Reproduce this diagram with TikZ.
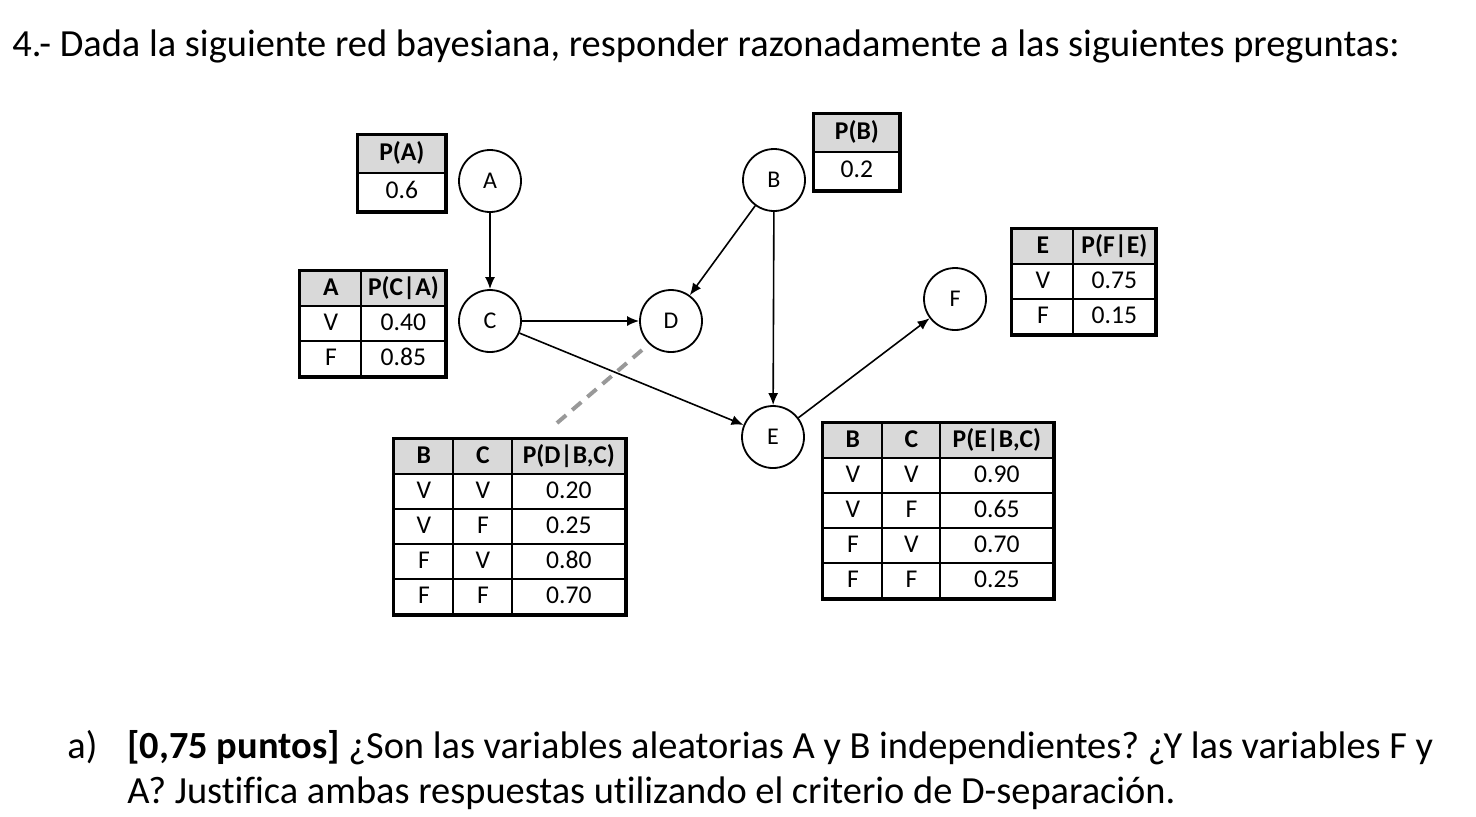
\documentclass[tikz,border=0pt]{standalone}
\usepackage{fontspec}
\setmainfont{Carlito}[Ligatures=NoCommon]
\usetikzlibrary{matrix,arrows.meta}
\frenchspacing

\tikzset{
  var/.style={circle,draw,line width=0.9pt,minimum size=31pt,inner sep=0pt,
    font=\fontsize{12}{14}\selectfont},
  edge/.style={-{Latex[length=6pt,width=5pt]},line width=0.8pt},
  cpt/.style={matrix of nodes,inner sep=0pt,row sep=-1pt,column sep=-1pt,
    anchor=north west,
    nodes={draw,line width=1pt,inner sep=0pt,anchor=center,minimum height=17.5pt,
      text height=9pt,text depth=2.5pt,font=\fontsize{12.8}{14}\selectfont},
    row 1/.style={nodes={fill=gray!30,font=\fontsize{12.8}{14}\selectfont\bfseries}}},
  frame/.style={line width=1.3pt},
  txt/.style={anchor=base west,inner sep=0pt,font=\fontsize{19.2}{23}\selectfont}
}

\begin{document}
\begin{tikzpicture}[x=0.5pt,y=-0.5pt]
  \useasboundingbox (0,0) rectangle (1476,816);

  % title and question
  \node[txt] (title) at (12,56) {4.- Dada la siguiente red bayesiana, responder razonadamente a las siguientes preguntas:};
  \node[txt] (qa) at (67,758) {a)};
  \node[txt] (q1) at (127,758) {\textbf{[0,75 puntos]} ¿Son las variables aleatorias A y B independientes? ¿Y las variables F y};
  \node[txt] (q2) at (127,803) {A? Justifica ambas respuestas utilizando el criterio de D-separación.};

  % variables
  \node[var] (A) at (490,181) {A};
  \node[var] (B) at (774,180) {B};
  \node[var] (C) at (490,321) {C};
  \node[var] (D) at (671,321) {D};
  \node[var] (E) at (773,437) {E};
  \node[var] (F) at (955,299) {F};

  \draw[edge] (A) -- (C);
  \draw[edge] (C) -- (D);
  \draw[edge] (B) -- (D);
  \draw[edge] (B) -- (E);
  \draw[edge] (C) -- (E);
  \draw[edge] (E) -- (F);

  % d-separation cut
  \coordinate (cut1) at (557,423);
  \coordinate (cut2) at (642,350);
  \draw[gray!80,line width=2pt,dash pattern=on 6pt off 4pt] (cut1) -- (cut2);

  % tables
  \matrix (tA) at (357,134) [cpt,nodes={minimum width=43.5pt,minimum height=19pt}] {
    P(A) \\ 0.6 \\};
  \matrix (tB) at (813,113) [cpt,nodes={minimum width=42.5pt,minimum height=19pt}] {
    P(B) \\ 0.2 \\};
  \matrix (tC) at (299,270) [cpt,column 1/.style={nodes={minimum width=30.5pt}},
      column 2/.style={nodes={minimum width=42pt}}] {
    A & P(C|A) \\ V & 0.40 \\ F & 0.85 \\};
  \matrix (tF) at (1011,228) [cpt,column 1/.style={nodes={minimum width=30.5pt}},
      column 2/.style={nodes={minimum width=41pt}}] {
    E & P(F|E) \\ V & 0.75 \\ F & 0.15 \\};
  \matrix (tD) at (393,438) [cpt,column 1/.style={nodes={minimum width=29.5pt}},
      column 2/.style={nodes={minimum width=29.5pt}},
      column 3/.style={nodes={minimum width=56.5pt}}] {
    B & C & P(D|B,C) \\ V & V & 0.20 \\ V & F & 0.25 \\ F & V & 0.80 \\ F & F & 0.70 \\};
  \matrix (tE) at (822,422) [cpt,column 1/.style={nodes={minimum width=29.5pt}},
      column 2/.style={nodes={minimum width=29pt}},
      column 3/.style={nodes={minimum width=56.5pt}}] {
    B & C & P(E|B,C) \\ V & V & 0.90 \\ V & F & 0.65 \\ F & V & 0.70 \\ F & F & 0.25 \\};
  \foreach \t in {tA,tB,tC,tF,tD,tE}
    \draw[frame] (\t.north west) rectangle (\t.south east);
\end{tikzpicture}
\end{document}
